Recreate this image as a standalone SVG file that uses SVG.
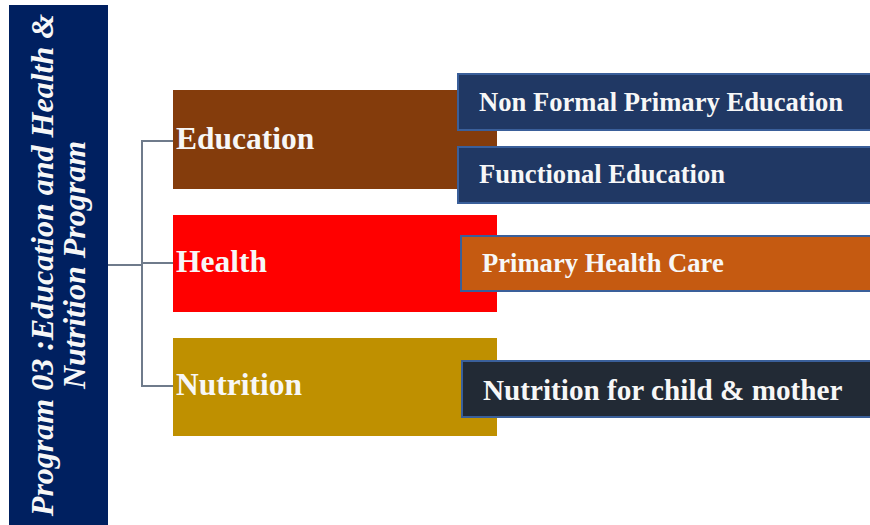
<svg xmlns="http://www.w3.org/2000/svg" width="870" height="525" viewBox="0 0 870 525">
<style>
.lbl{font-family:"Liberation Serif","Times New Roman",serif;font-weight:bold;fill:#f7f7f7}
.cat{font-size:31.5px}
.sub{font-size:26.6px}
.subbox{stroke:#3a5f9a;stroke-width:2}
.conn{stroke:#6f7b8b;stroke-width:2;fill:none}
</style>
<rect width="870" height="525" fill="#ffffff"/>
<g id="program">
<rect x="9" y="5" width="99" height="525" fill="#002060"/>
<text class="lbl" font-size="32" font-style="italic" text-anchor="middle" transform="translate(53,265) rotate(-90)">Program 03 :Education and Health &amp;</text>
<text class="lbl" font-size="32" font-style="italic" text-anchor="middle" transform="translate(85,265) rotate(-90)">Nutrition Program</text>
</g>
<g id="connectors">
<path class="conn" d="M108 265 H142"/>
<path class="conn" d="M173 141 H142 V386 H173"/>
<path class="conn" d="M142 263 H173"/>
</g>
<g id="education">
<rect x="173" y="90" width="324" height="99" fill="#843c0c"/>
<text class="lbl cat" x="176" y="149">Education</text>
</g>
<g id="health">
<rect x="173" y="215" width="324" height="97" fill="#ff0000"/>
<text class="lbl cat" x="176" y="272">Health</text>
</g>
<g id="nutrition">
<rect x="173" y="338" width="324" height="98" fill="#bf9000"/>
<text class="lbl cat" x="176" y="395">Nutrition</text>
</g>
<g id="non-formal">
<rect class="subbox" x="458" y="74" width="414" height="56" fill="#203864"/>
<text class="lbl sub" x="479" y="111">Non Formal Primary Education</text>
</g>
<g id="functional">
<rect class="subbox" x="458" y="147" width="414" height="56" fill="#203864"/>
<text class="lbl sub" x="479" y="183">Functional Education</text>
</g>
<g id="primary-health">
<rect class="subbox" x="461" y="236" width="411" height="55" fill="#c55a11"/>
<text class="lbl sub" x="482" y="272">Primary Health Care</text>
</g>
<g id="child-mother">
<rect class="subbox" x="462" y="361" width="410" height="56" fill="#222a35"/>
<text class="lbl" font-size="29.2" x="483" y="400">Nutrition for child &amp; mother</text>
</g>
</svg>
